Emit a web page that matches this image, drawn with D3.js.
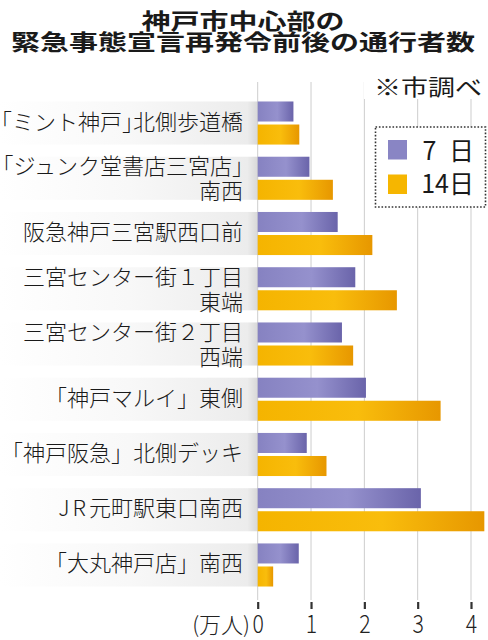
<!DOCTYPE html>
<html>
<head>
<meta charset="utf-8">
<script src="https://cdn.jsdelivr.net/npm/d3@7"></script>
<style>
  body { margin: 0; background: #fff; }
  svg { display: block; font-family: "Noto Sans CJK JP", "Noto Sans", sans-serif; }
</style>
</head>
<body>
<svg id="chart"></svg>
<script>
// Data (unit: 10,000 people)
const titleLines = ['神戸市中心部の', '緊急事態宣言再発令前後の通行者数'];
const note = '※市調べ';
const unitLabel = '(万人)';
const places = [
  '「ミント神戸」北側歩道橋',
  '「ジュンク堂書店三宮店」\n南西',
  '阪急神戸三宮駅西口前',
  '三宮センター街１丁目\n東端',
  '三宮センター街２丁目\n西端',
  '「神戸マルイ」東側',
  '「神戸阪急」北側デッキ',
  'JR元町駅東口南西',
  '「大丸神戸店」南西'
];
const series = ['7日', '14日'];
const legendNames = ['7\u2002日', '14日'];
const day7 = [0.67, 0.97, 1.50, 1.83, 1.58, 2.03, 0.92, 3.06, 0.77];
const day14 = [0.78, 1.41, 2.15, 2.61, 1.79, 3.43, 1.29, 4.25, 0.29];
const tickValues = [0, 1, 2, 3, 4];

const W = 488, H = 640;
const svg = d3.select('#chart').attr('width', W).attr('height', H);

// scales
const x = d3.scaleLinear().domain([0, 4]).range([257.7, 471]);
const y = d3.scaleBand().domain(places).range([95.4, 592.6]).paddingInner(0.22).paddingOuter(0.11);
const ySub = d3.scaleBand().domain(series).range([0, y.bandwidth()]).paddingInner(0.13);
const values = {'7日': day7, '14日': day14};

// gradients
const defs = svg.append('defs');
function grad(id, stops) {
  const g = defs.append('linearGradient').attr('id', id).attr('x1', 0).attr('x2', 1).attr('y1', 0).attr('y2', 0);
  stops.forEach(s => g.append('stop').attr('offset', s[0]).attr('stop-color', s[1]));
}
grad('g7', [[0, '#8682c1'], [0.55, '#9591cd'], [1, '#6a64aa']]);
grad('g14', [[0, '#f5b400'], [0.55, '#f9bd0c'], [1, '#e79700']]);
grad('gbg', [[0, '#ffffff'], [0.5, '#f8f8f8'], [0.96, '#ececec'], [1, '#d8d8d8']]);
const fills = {'7日': 'url(#g7)', '14日': 'url(#g14)'};
const swatch = {'7日': '#8985c4', '14日': '#f6b600'};

// title
titleLines.forEach((t, i) => {
  svg.append('g')
    .attr('transform', `translate(243,${i ? 50 : 28.5}) scale(1,0.76)`)
    .append('text')
    .attr('text-anchor', 'middle')
    .attr('fill', '#1a1a1a')
    .style('font-size', '29px')
    .style('font-weight', 700)
    .text(t);
});

// label backgrounds
svg.append('g').selectAll('rect').data(places).join('rect')
  .attr('x', 0)
  .attr('y', d => y(d))
  .attr('width', x(0))
  .attr('height', y.bandwidth())
  .attr('fill', 'url(#gbg)');

// gridlines
svg.append('g').selectAll('line').data(tickValues).join('line')
  .attr('x1', d => x(d)).attr('x2', d => x(d))
  .attr('y1', 82).attr('y2', 600)
  .attr('stroke', '#cdcdcd')
  .attr('stroke-width', 1);

// note with white backing
svg.append('rect').attr('x', 364).attr('y', 72).attr('width', 124).attr('height', 27).attr('fill', '#fff');
svg.append('g')
  .attr('transform', 'translate(482,95) scale(1,0.8)')
  .append('text')
  .attr('text-anchor', 'end')
  .attr('fill', '#1a1a1a')
  .style('font-size', '27px')
  .text(note);

// bars
const groups = svg.append('g').selectAll('g').data(places).join('g')
  .attr('transform', d => `translate(0,${y(d)})`);
groups.selectAll('rect')
  .data((d, i) => series.map(s => ({s, v: values[s][i]})))
  .join('rect')
  .attr('x', x(0))
  .attr('y', d => ySub(d.s))
  .attr('width', d => x(d.v) - x(0))
  .attr('height', ySub.bandwidth())
  .attr('fill', d => fills[d.s]);

// category labels
const labels = svg.append('g')
  .attr('fill', '#1a1a1a')
  .style('font-size', '22px')
  .style('font-weight', 300);
places.forEach(p => {
  const lines = p.split('\n');
  const c = y(p) + y.bandwidth() / 2;
  const offs = lines.length > 1 ? [-12, 13] : [-1.5];
  lines.forEach((ln, j) => {
    const t = labels.append('text')
      .attr('x', 243)
      .attr('y', c + offs[j] + 8)
      .attr('text-anchor', 'end');
    ln.split(/([「」]|JR)/).filter(s => s).forEach(part => {
      const sp = t.append('tspan').text(part);
      if (/[「」]/.test(part)) sp.attr('class', 'br');
      if (part === 'JR') sp.style('letter-spacing', '3px');
    });
    // squeeze brackets to half width when the line is too long
    if (t.node().getComputedTextLength() > 246) {
      t.selectAll('tspan.br').style('font-feature-settings', '"halt"');
    }
  });
});

// legend
const lg = svg.append('g');
lg.append('rect')
  .attr('x', 375.5).attr('y', 127).attr('width', 110).attr('height', 80)
  .attr('fill', '#fff')
  .attr('stroke', '#333')
  .attr('stroke-width', 1.6)
  .attr('stroke-dasharray', '1.6 1.8');
series.forEach((s, i) => {
  lg.append('rect')
    .attr('x', 388).attr('y', 140 + i * 34.5)
    .attr('width', 19).attr('height', 19.5)
    .attr('fill', swatch[s]);
  lg.append('text')
    .attr('x', 474).attr('y', 160 + i * 33)
    .attr('text-anchor', 'end')
    .attr('fill', '#1a1a1a')
    .style('font-size', '25px')
    .text(legendNames[i]);
});

// axis
const axis = d3.axisBottom(x).tickValues(tickValues).tickSize(7).tickSizeOuter(0).tickFormat(d3.format('d'));
const ax = svg.append('g').attr('transform', 'translate(0,602)').call(axis);
ax.select('.domain').remove();
ax.selectAll('.tick line').attr('stroke', '#333').attr('stroke-width', 2.2);
ax.selectAll('.tick text')
  .attr('y', 31).attr('dy', 0)
  .attr('fill', '#222')
  .attr('transform', 'scale(0.85,1)')
  .style('font-family', '"Noto Sans CJK JP", sans-serif')
  .style('font-size', '25px')
  .style('font-weight', 300);

svg.append('text')
  .attr('x', 250).attr('y', 633)
  .attr('text-anchor', 'end')
  .attr('fill', '#222')
  .style('font-size', '22px')
  .style('font-weight', 300)
  .text(unitLabel);
</script>
</body>
</html>
